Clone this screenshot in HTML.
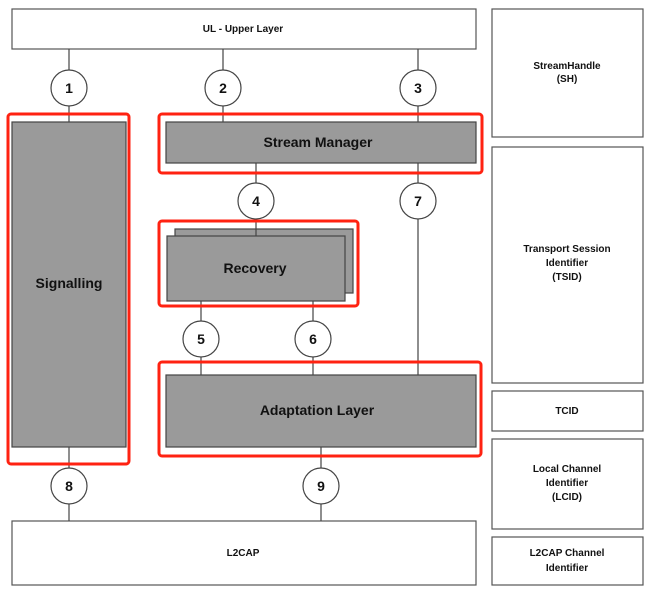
<!DOCTYPE html>
<html><head><meta charset="utf-8"><style>
html,body{margin:0;padding:0;background:#fff;}
svg{display:block;}
text{font-family:"Liberation Sans",Arial,sans-serif;font-weight:bold;fill:#111;text-anchor:middle;}
</style></head><body>
<svg width="657" height="594" viewBox="0 0 657 594" xmlns="http://www.w3.org/2000/svg">
<g fill="#fff" stroke="#555" stroke-width="1.2">
<rect x="12" y="9" width="464" height="40"/>
<rect x="12" y="521" width="464" height="64"/>
<rect x="492" y="9" width="151" height="128"/>
<rect x="492" y="147" width="151" height="236"/>
<rect x="492" y="391" width="151" height="40"/>
<rect x="492" y="439" width="151" height="90"/>
<rect x="492" y="537" width="151" height="48"/>
</g>
<g stroke="#444" stroke-width="1.2">
<line x1="69" y1="49" x2="69" y2="122"/>
<line x1="223" y1="49" x2="223" y2="122"/>
<line x1="418" y1="49" x2="418" y2="122"/>
<line x1="256" y1="163" x2="256" y2="236"/>
<line x1="418" y1="163" x2="418" y2="375"/>
<line x1="201" y1="301" x2="201" y2="375"/>
<line x1="313" y1="301" x2="313" y2="375"/>
<line x1="321" y1="447" x2="321" y2="521"/>
<line x1="69" y1="447" x2="69" y2="521"/>
</g>
<g fill="#9a9a9a" stroke="#444" stroke-width="1.2">
<rect x="12" y="122" width="114" height="325"/>
<rect x="166" y="122" width="310" height="41"/>
<rect x="175" y="229" width="178" height="64"/>
<rect x="167" y="236" width="178" height="65"/>
<rect x="166" y="375" width="310" height="72"/>
</g>
<line x1="256" y1="229" x2="256" y2="236" stroke="#444" stroke-width="1.2"/>
<g fill="none" stroke="#f21" stroke-width="3">
<rect x="8" y="114" width="121" height="350" rx="3"/>
<rect x="159" y="114" width="323" height="59" rx="3"/>
<rect x="159" y="221" width="199" height="85" rx="3"/>
<rect x="159" y="362" width="322" height="94" rx="3"/>
</g>
<g fill="#fff" stroke="#444" stroke-width="1.2">
<circle cx="69" cy="88" r="18"/><circle cx="223" cy="88" r="18"/><circle cx="418" cy="88" r="18"/>
<circle cx="256" cy="201" r="18"/><circle cx="418" cy="201" r="18"/>
<circle cx="201" cy="339" r="18"/><circle cx="313" cy="339" r="18"/>
<circle cx="69" cy="486" r="18"/><circle cx="321" cy="486" r="18"/>
</g>
<g font-size="14">
<text x="69" y="93">1</text><text x="223" y="93">2</text><text x="418" y="93">3</text>
<text x="256" y="206">4</text><text x="418" y="206">7</text>
<text x="201" y="344">5</text><text x="313" y="344">6</text>
<text x="69" y="491">8</text><text x="321" y="491">9</text>
</g>
<g font-size="14">
<text x="69" y="288">Signalling</text>
<text x="318" y="147">Stream Manager</text>
<text x="255" y="273">Recovery</text>
<text x="317" y="415">Adaptation Layer</text>
</g>
<g font-size="10">
<text x="243" y="32">UL - Upper Layer</text>
<text x="243" y="556">L2CAP</text>
<text x="567" y="69">StreamHandle</text>
<text x="567" y="82">(SH)</text>
<text x="567" y="252">Transport Session</text>
<text x="567" y="266">Identifier</text>
<text x="567" y="280">(TSID)</text>
<text x="567" y="414">TCID</text>
<text x="567" y="472">Local Channel</text>
<text x="567" y="486">Identifier</text>
<text x="567" y="500">(LCID)</text>
<text x="567" y="556">L2CAP Channel</text>
<text x="567" y="571">Identifier</text>
</g>
</svg>
</body></html>
